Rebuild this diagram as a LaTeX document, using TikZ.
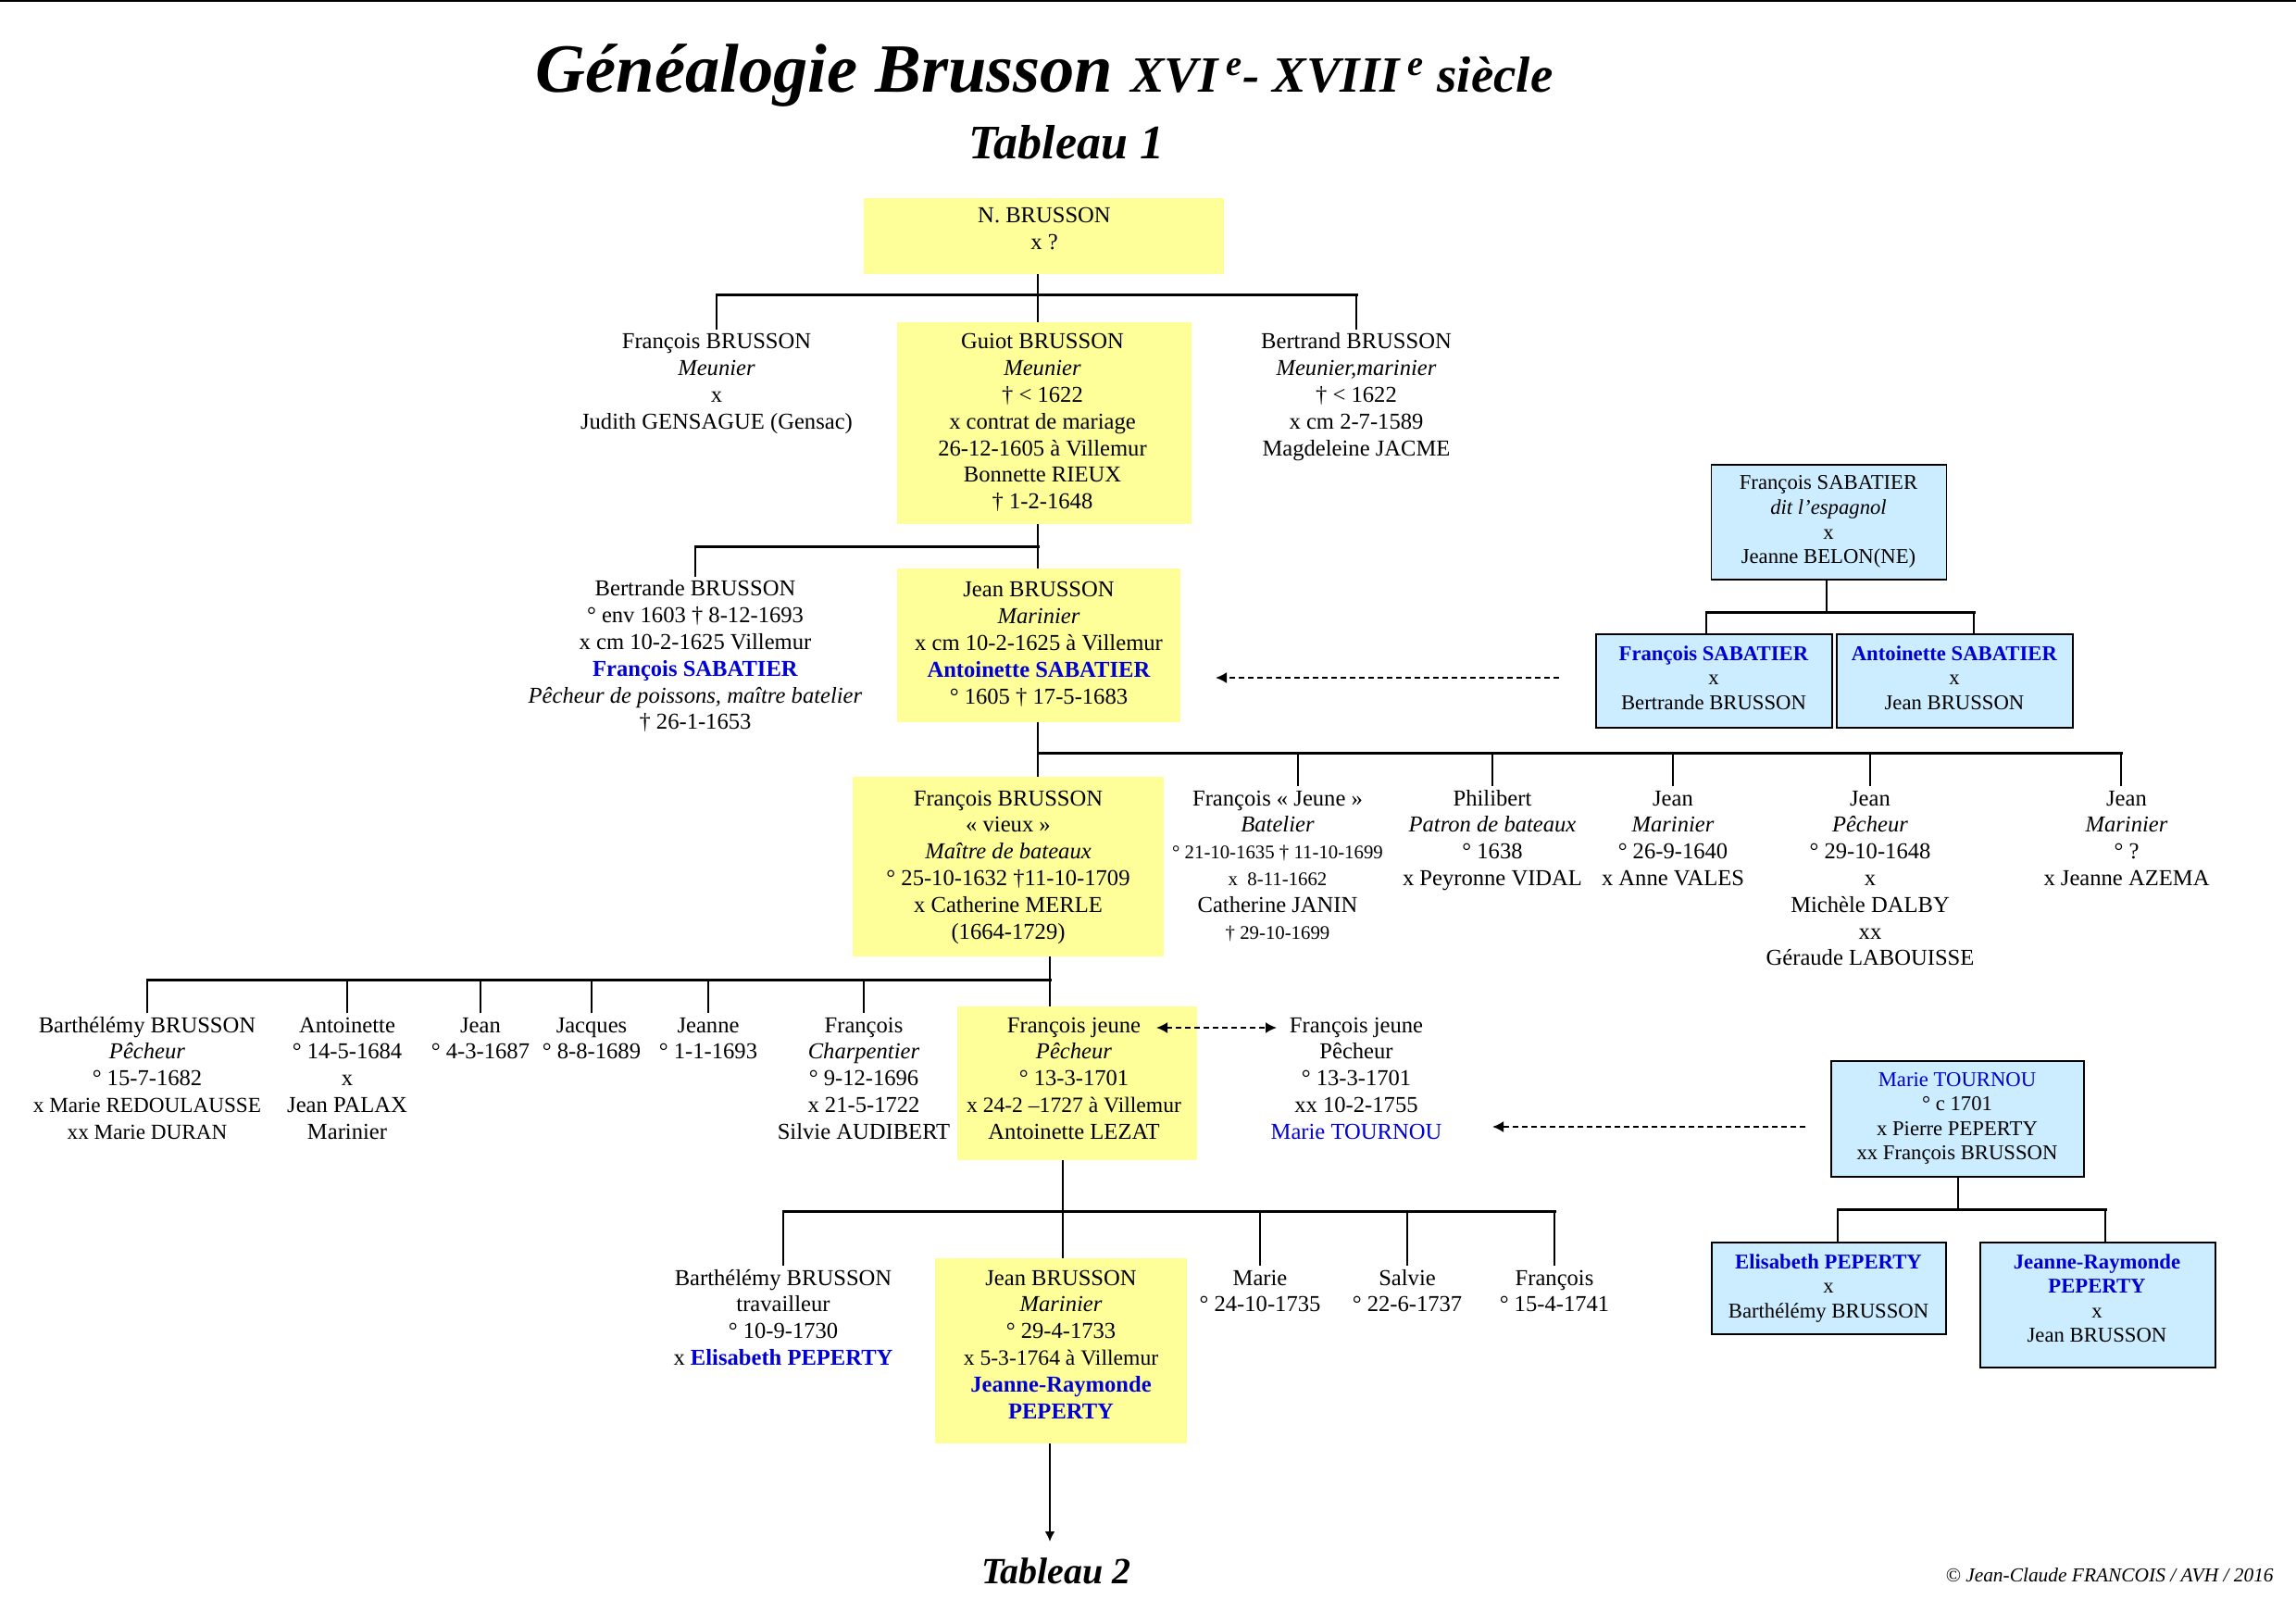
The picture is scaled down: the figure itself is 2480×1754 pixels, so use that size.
\documentclass[tikz,border=0pt]{standalone}
\usepackage{fontspec}
\setmainfont{Liberation Serif}
\usetikzlibrary{arrows.meta}
\definecolor{yel}{RGB}{255,255,153}
\definecolor{lblue}{RGB}{204,236,255}
\definecolor{blu}{RGB}{0,0,210}
\newcommand{\pp}[1]{\begin{tabular}[t]{@{}c@{}}#1\end{tabular}}
\newcommand{\blub}[1]{\textcolor{blu}{\textbf{#1}}}
\newcommand{\bl}[1]{\textcolor{blu}{#1}}
\newcommand{\mainsz}{\fontsize{12.3}{14.4}\selectfont}
\newcommand{\smsz}{\fontsize{11.35}{13.3}\selectfont}
\newcommand{\tsz}{\fontsize{10.4}{12}\selectfont}
\newcommand{\msz}{\fontsize{11.6}{13}\selectfont}
\begin{document}
\begin{tikzpicture}[x=0.5pt,y=-0.5pt,
  ybox/.style={fill=yel, draw=none, inner sep=0pt},
  bbox/.style={fill=lblue, draw=black, line width=0.75pt, inner sep=0pt},
  person/.style={anchor=base, inner sep=0pt, font=\mainsz},
  sperson/.style={anchor=base, inner sep=0pt, font=\smsz},
  bar/.style={line width=1.5pt, line cap=rect},
  drop/.style={line width=1pt},
  darrow/.style={line width=1pt, dash pattern=on 3pt off 2pt, -{Latex[length=6pt,width=6pt]}},
  ddarrow/.style={line width=1pt, dash pattern=on 3pt off 2pt, {Latex[length=6pt,width=6pt]}-{Latex[length=6pt,width=6pt]}}
]
\useasboundingbox (0,0) rectangle (2480,1754);
\fill[white] (0,0) rectangle (2480,1754);
\draw[line width=1.2pt] (0,1) -- (2480,1);

% titles
\node[anchor=base, inner sep=0pt] (title) at (1128,100) {\fontsize{37.3}{40}\selectfont\bfseries\itshape Généalogie Brusson {\fontsize{27.4}{30}\selectfont XVI\,\textsuperscript{e}- XVIII\,\textsuperscript{e} siècle}};
\node[anchor=base, inner sep=0pt] (tab1) at (1152,172) {\fontsize{26}{28}\selectfont\bfseries\itshape Tableau 1};
\node[anchor=base, inner sep=0pt] (tab2) at (1141,1710) {\fontsize{20}{22}\selectfont\bfseries\itshape Tableau 2};
\node[anchor=base east, inner sep=0pt] (copy) at (2456,1708) {\fontsize{10.7}{12}\selectfont\itshape © Jean-Claude FRANCOIS / AVH / 2016};

% boxes
\node[ybox, minimum width=194.5pt, minimum height=41pt] (nb) at (1127.5,255) {};
\node[ybox, minimum width=159pt, minimum height=109pt] (guiot) at (1128,457) {};
\node[ybox, minimum width=153pt, minimum height=82.5pt] (jean) at (1122,697) {};
\node[ybox, minimum width=168pt, minimum height=97pt] (fv) at (1089,936) {};
\node[ybox, minimum width=129.5pt, minimum height=83pt] (fjb) at (1163.5,1170) {};
\node[ybox, minimum width=136pt, minimum height=100pt] (jb) at (1146,1459) {};
\node[bbox, minimum width=127pt, minimum height=62pt] (sab) at (1975.5,564) {};
\node[bbox, minimum width=127.5pt, minimum height=50.5pt] (fsab) at (1851.5,735.5) {};
\node[bbox, minimum width=127.5pt, minimum height=50.5pt] (asab) at (2111.5,735.5) {};
\node[bbox, minimum width=136.5pt, minimum height=62.5pt] (mt) at (2114.5,1208.5) {};
\node[bbox, minimum width=126.5pt, minimum height=49.5pt] (elis) at (1975.5,1391.5) {};
\node[bbox, minimum width=127pt, minimum height=67.5pt] (jr) at (2266,1409.5) {};

% texts generation 1-2
\node[person] (nbt) at (1128,241) {\pp{N. BRUSSON\\x ?}};
\node[person] (fb) at (774,377) {\pp{François BRUSSON\\\textit{Meunier}\\x\\Judith GENSAGUE (Gensac)}};
\node[person] (guiott) at (1126,377) {\pp{Guiot BRUSSON\\\textit{Meunier}\\† < 1622\\x contrat de mariage\\26-12-1605 à Villemur\\Bonnette RIEUX\\† 1-2-1648}};
\node[person] (bert) at (1465,377) {\pp{Bertrand BRUSSON\\\textit{Meunier,marinier}\\† < 1622\\x cm 2-7-1589\\Magdeleine JACME}};

% generation 3
\node[person] (bde) at (751,644) {\pp{Bertrande BRUSSON\\° env 1603 † 8-12-1693\\x cm 10-2-1625 Villemur\\\blub{François SABATIER}\\\textit{Pêcheur de poissons, maître batelier}\\† 26-1-1653}};
\node[person] (jeant) at (1122,645) {\pp{Jean BRUSSON\\\textit{Marinier}\\x cm 10-2-1625 à Villemur\\\blub{Antoinette SABATIER}\\° 1605 † 17-5-1683}};
\node[sperson] (sabt) at (1975,529) {\pp{François SABATIER\\\textit{dit l’espagnol}\\x\\Jeanne BELON(NE)}};
\node[sperson] (fsabt) at (1851,713) {\pp{\blub{François SABATIER}\\x\\Bertrande BRUSSON}};
\node[sperson] (asabt) at (2111,713) {\pp{\blub{Antoinette SABATIER}\\x\\Jean BRUSSON}};

% generation 4
\node[person] (fvt) at (1089,870) {\pp{François BRUSSON\\« vieux »\\\textit{Maître de bateaux}\\° 25-10-1632 †11-10-1709\\x Catherine MERLE\\(1664-1729)}};
\node[person] (fj) at (1380,870) {\pp{François « Jeune »\\\textit{Batelier}\\{\tsz ° 21-10-1635 † 11-10-1699}\\{\tsz x~~8-11-1662}\\Catherine JANIN\\{\tsz † 29-10-1699}}};
\node[person] (phil) at (1612,870) {\pp{Philibert\\\textit{Patron de bateaux}\\° 1638\\x Peyronne VIDAL}};
\node[person] (jeanm) at (1807,870) {\pp{Jean\\\textit{Marinier}\\° 26-9-1640\\x Anne VALES}};
\node[person] (jeanp) at (2020,870) {\pp{Jean\\\textit{Pêcheur}\\° 29-10-1648\\x\\Michèle DALBY\\xx\\Géraude LABOUISSE}};
\node[person] (jeanm2) at (2297,870) {\pp{Jean\\\textit{Marinier}\\° ?\\x Jeanne AZEMA}};

% generation 5
\node[person] (barth) at (159,1115) {\pp{Barthélémy BRUSSON\\\textit{Pêcheur}\\° 15-7-1682\\{\msz x Marie REDOULAUSSE}\\{\msz xx Marie DURAN}}};
\node[person] (ant) at (375,1115) {\pp{Antoinette\\° 14-5-1684\\x\\Jean PALAX\\Marinier}};
\node[person] (jean3) at (519,1115) {\pp{Jean\\° 4-3-1687}};
\node[person] (jacq) at (639,1115) {\pp{Jacques\\° 8-8-1689}};
\node[person] (jeanne) at (765,1115) {\pp{Jeanne\\° 1-1-1693}};
\node[person] (fc) at (933,1115) {\pp{François\\\textit{Charpentier}\\° 9-12-1696\\x 21-5-1722\\Silvie AUDIBERT}};
\node[person] (fjbt) at (1160,1115) {\pp{François jeune\\\textit{Pêcheur}\\° 13-3-1701\\{\fontsize{11.8}{13}\selectfont x 24-2 –1727 à Villemur}\\Antoinette LEZAT}};
\node[person] (fjr) at (1465,1115) {\pp{François jeune\\Pêcheur\\° 13-3-1701\\xx 10-2-1755\\\bl{Marie TOURNOU}}};
\node[sperson] (mtt) at (2114,1173) {\pp{\bl{Marie TOURNOU}\\° c 1701\\x Pierre PEPERTY\\xx François BRUSSON}};

% generation 6
\node[person] (barth2) at (846,1388) {\pp{Barthélémy BRUSSON\\travailleur\\° 10-9-1730\\x \blub{Elisabeth PEPERTY}}};
\node[person] (jbt) at (1146,1388) {\pp{Jean BRUSSON\\\textit{Marinier}\\° 29-4-1733\\{\fontsize{11.8}{13}\selectfont x 5-3-1764 à Villemur}\\\blub{Jeanne-Raymonde}\\\blub{PEPERTY}}};
\node[person] (marie) at (1361,1388) {\pp{Marie\\° 24-10-1735}};
\node[person] (salvie) at (1520,1388) {\pp{Salvie\\° 22-6-1737}};
\node[person] (fr3) at (1679,1388) {\pp{François\\° 15-4-1741}};
\node[sperson] (elist) at (1975,1370) {\pp{\blub{Elisabeth PEPERTY}\\x\\Barthélémy BRUSSON}};
\node[sperson] (jrt) at (2265,1370) {\pp{\blub{Jeanne-Raymonde}\\\blub{PEPERTY}\\x\\Jean BRUSSON}};

% connectors 1
\coordinate (j1) at (1121,319);
\draw[drop] (nb.south -| j1) -- (j1);
\draw[bar] (fb.north |- j1) -- (bert.north |- j1);
\draw[drop] (fb.north |- j1) -- (fb.north);
\draw[drop] (j1) -- (guiot.north -| j1);
\draw[drop] (bert.north |- j1) -- (bert.north);

% connectors 2
\coordinate (j2) at (1121,591);
\draw[drop] (guiot.south -| j2) -- (j2);
\draw[bar] (bde.north |- j2) -- (j2);
\draw[drop] (bde.north |- j2) -- (bde.north);
\draw[drop] (j2) -- (jean.north -| j2);

% Sabatier family
\coordinate (j3) at (1973,662);
\coordinate (j3l) at (1843,662);
\coordinate (j3r) at (2132,662);
\draw[drop] (sab.south -| j3) -- (j3);
\draw[bar] (j3l) -- (j3r);
\draw[drop] (j3l) -- (fsab.north -| j3l);
\draw[drop] (j3r) -- (asab.north -| j3r);
\coordinate (a1s) at (1684,732);
\coordinate (a1e) at (1313,732);
\draw[darrow] (a1s) -- (a1e);

% connectors 3
\coordinate (j4) at (1121,813);
\coordinate (d42) at (1402,813);
\coordinate (d46) at (2291,813);
\draw[drop] (jean.south -| j4) -- (j4);
\draw[bar] (j4) -- (d46);
\draw[drop] (j4) -- (fv.north -| j4);
\draw[drop] (d42) -- (fj.north -| d42);
\draw[drop] (phil.north |- j4) -- (phil.north);
\draw[drop] (jeanm.north |- j4) -- (jeanm.north);
\draw[drop] (jeanp.north |- j4) -- (jeanp.north);
\draw[drop] (d46) -- (jeanm2.north -| d46);

% connectors 4
\coordinate (j5) at (1134,1058);
\draw[drop] (fv.south -| j5) -- (j5);
\draw[bar] (barth.north |- j5) -- (j5);
\draw[drop] (barth.north |- j5) -- (barth.north);
\draw[drop] (ant.north |- j5) -- (ant.north);
\draw[drop] (jean3.north |- j5) -- (jean3.north);
\draw[drop] (jacq.north |- j5) -- (jacq.north);
\draw[drop] (jeanne.north |- j5) -- (jeanne.north);
\draw[drop] (fc.north |- j5) -- (fc.north);
\draw[drop] (j5) -- (fjb.north -| j5);
\coordinate (a2l) at (1249,1110);
\coordinate (a2r) at (1379,1110);
\draw[ddarrow] (a2l) -- (a2r);
\coordinate (a3s) at (1950,1217);
\coordinate (a3e) at (1612,1217);
\draw[darrow] (a3s) -- (a3e);

% Tournou family
\coordinate (j6) at (2115,1306);
\coordinate (j6l) at (1985,1306);
\coordinate (j6r) at (2274,1306);
\draw[drop] (mt.south -| j6) -- (j6);
\draw[bar] (j6l) -- (j6r);
\draw[drop] (j6l) -- (elis.north -| j6l);
\draw[drop] (j6r) -- (jr.north -| j6r);

% connectors 5
\coordinate (j7) at (1148,1308);
\draw[drop] (fjb.south -| j7) -- (j7);
\draw[bar] (barth2.north |- j7) -- (fr3.north |- j7);
\draw[drop] (barth2.north |- j7) -- (barth2.north);
\draw[drop] (j7) -- (jb.north -| j7);
\draw[drop] (marie.north |- j7) -- (marie.north);
\draw[drop] (salvie.north |- j7) -- (salvie.north);
\draw[drop] (fr3.north |- j7) -- (fr3.north);

% to Tableau 2
\coordinate (t2a) at (1134,1665);
\draw[line width=1pt, -{Latex[length=5.5pt,width=5.5pt]}] (jb.south -| t2a) -- (t2a);
\end{tikzpicture}
\end{document}
